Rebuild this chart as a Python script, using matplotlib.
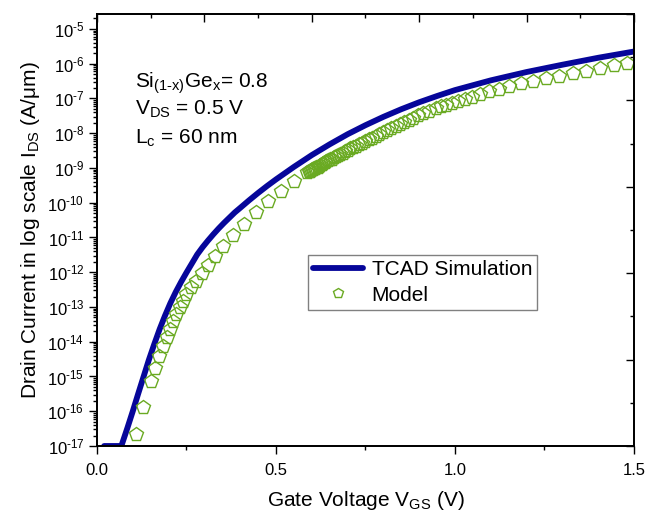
import numpy as np
import matplotlib
matplotlib.use('Agg')
from matplotlib import pyplot as plt
from matplotlib.ticker import LogLocator, MultipleLocator, NullFormatter, FuncFormatter

plt.rcParams['font.family'] = ['Liberation Sans', 'DejaVu Sans']
plt.rcParams['mathtext.fontset'] = 'custom'
plt.rcParams['mathtext.rm'] = 'Liberation Sans'
plt.rcParams['mathtext.it'] = 'Liberation Sans:italic'
plt.rcParams['mathtext.default'] = 'regular'

# TCAD simulation (V_GS in V, log10 of I_DS in A/um)
v_tcad = [0.02, 0.063, 0.068, 0.070, 0.085, 0.100, 0.115, 0.130, 0.145, 0.160,
          0.175, 0.190, 0.205, 0.220, 0.235, 0.250, 0.265, 0.280, 0.295, 0.310,
          0.325, 0.340, 0.355, 0.370, 0.385, 0.400, 0.425, 0.450, 0.475, 0.500,
          0.525, 0.550, 0.575, 0.600, 0.650, 0.700, 0.750, 0.800, 0.850, 0.900,
          0.950, 1.000, 1.100, 1.200, 1.300, 1.400, 1.500]
logi_tcad = [-17.0, -17.0, -17.0, -16.94, -16.48, -16.00, -15.50, -15.01, -14.52, -14.07,
             -13.64, -13.25, -12.89, -12.57, -12.28, -12.01, -11.75, -11.49, -11.28, -11.09,
             -10.91, -10.74, -10.58, -10.43, -10.28, -10.15, -9.93, -9.72, -9.52, -9.33,
             -9.15, -8.97, -8.80, -8.63, -8.32, -8.03, -7.77, -7.53, -7.31, -7.11,
             -6.93, -6.76, -6.48, -6.24, -6.03, -5.83, -5.65]

# model points
v_model = [0.108, 0.128, 0.150, 0.162, 0.174, 0.185, 0.195, 0.204, 0.213, 0.222,
           0.231, 0.240, 0.250, 0.263, 0.277, 0.293, 0.310, 0.330, 0.353, 0.380,
           0.410, 0.443, 0.477, 0.513, 0.550, 0.588,
           0.592, 0.595, 0.598, 0.601, 0.604, 0.607, 0.610, 0.613, 0.616, 0.620,
           0.624, 0.628, 0.632, 0.636, 0.641, 0.646, 0.651, 0.656, 0.662, 0.668,
           0.674, 0.680, 0.687, 0.694, 0.701, 0.708, 0.716, 0.724, 0.732, 0.741,
           0.750, 0.759, 0.769, 0.779, 0.789, 0.800, 0.811, 0.822, 0.834, 0.846,
           0.858, 0.871, 0.884, 0.898, 0.912, 0.927,
           0.946, 0.960, 0.975, 0.991, 1.008, 1.027, 1.048, 1.071, 1.096, 1.123,
           1.152, 1.184, 1.218, 1.254, 1.291, 1.329, 1.367, 1.405, 1.443, 1.481]
logi_model = [-16.66, -15.87, -15.12, -14.76, -14.42, -14.12, -13.86, -13.62, -13.40, -13.19,
              -13.00, -12.82, -12.63, -12.43, -12.24, -12.02, -11.80, -11.54, -11.25, -10.93,
              -10.60, -10.27, -9.96, -9.66, -9.38, -9.12,
              -9.10, -9.08, -9.06, -9.04, -9.03, -9.01, -8.99, -8.97, -8.96, -8.93,
              -8.91, -8.89, -8.86, -8.84, -8.81, -8.78, -8.75, -8.73, -8.69, -8.66,
              -8.63, -8.60, -8.56, -8.52, -8.48, -8.44, -8.40, -8.36, -8.32, -8.27,
              -8.22, -8.18, -8.13, -8.08, -8.03, -7.97, -7.92, -7.86, -7.80, -7.74,
              -7.68, -7.62, -7.56, -7.49, -7.43, -7.36,
              -7.28, -7.23, -7.18, -7.13, -7.08, -7.02, -6.95, -6.88, -6.80, -6.72,
              -6.64, -6.56, -6.49, -6.42, -6.35, -6.27, -6.20, -6.12, -6.05, -5.98]

i_tcad = 10**np.array(logi_tcad)
i_model = 10**np.array(logi_model)

blue = '#06069a'
green = '#6aaa22'


def exp_label(y, pos):
    e = int(round(np.log10(y)))
    if e < 0:
        return r'10$^{\text{-}%d}$' % (-e)
    return r'10$^{%d}$' % e


fig = plt.figure(figsize=(6.57, 5.14), dpi=100)
ax = fig.add_subplot(111)
fig.subplots_adjust(left=0.1476, right=0.965, bottom=0.1323, top=0.9728)

ax.plot(v_tcad, i_tcad, '-', color=blue, lw=4.2, label='TCAD Simulation', zorder=2,
        solid_capstyle='round', solid_joinstyle='round')
ax.plot(v_model, i_model, 'p', color=green, mfc='none', ms=10.5, mew=1.0,
        label='Model', zorder=3)

ax.set_yscale('log')
ax.set_xlim(0, 1.5)
ax.set_ylim(1e-17, 10**-4.57)
ax.yaxis.set_major_locator(LogLocator(base=10, numticks=30))
ax.yaxis.set_minor_locator(LogLocator(base=10, subs=np.arange(2, 10), numticks=30))
ax.yaxis.set_major_formatter(FuncFormatter(exp_label))
ax.yaxis.set_minor_formatter(NullFormatter())
ax.xaxis.set_major_locator(MultipleLocator(0.5))
ax.xaxis.set_minor_locator(MultipleLocator(0.25))
ax.xaxis.set_major_formatter(plt.FormatStrFormatter('%.1f'))
ax.tick_params(which='major', direction='out', length=6, width=1, labelsize=12)
ax.tick_params(which='minor', direction='out', length=3, width=1)
ax.tick_params(axis='x', which='major', pad=6)
ax.tick_params(axis='y', which='major', pad=3)
for s in ax.spines.values():
    s.set_linewidth(1.1)

ax.set_xlabel(r'Gate Voltage V$_{\mathregular{GS}}$ (V)', fontsize=15, labelpad=8)
ax.set_ylabel(r'Drain Current in log scale I$_{\mathregular{DS}}$ (A/μm)', fontsize=15, labelpad=4)

# top and right axes with their own inward ticks, no labels
axt = ax.twiny()
axt.set_xlim(0, 1.5)
axt.xaxis.set_major_locator(MultipleLocator(0.3))
axt.xaxis.set_minor_locator(MultipleLocator(0.15))
axt.tick_params(axis='x', which='major', direction='in', length=6, width=1, labeltop=False)
axt.tick_params(axis='x', which='minor', direction='in', length=3, width=1)

axr = ax.twinx()
axr.set_ylim(0, 5)
axr.yaxis.set_major_locator(MultipleLocator(1))
axr.yaxis.set_minor_locator(MultipleLocator(0.5))
axr.tick_params(axis='y', which='major', direction='in', length=6, width=1, labelright=False)
axr.tick_params(axis='y', which='minor', direction='in', length=3, width=1)
for a in (axt, axr):
    for s in a.spines.values():
        s.set_linewidth(1.1)

ax.text(0.071, 0.829, r'Si$_{(1\text{-}x)}$Ge$_{x}$= 0.8', transform=ax.transAxes,
        fontsize=15, va='baseline')
ax.text(0.071, 0.766, r'V$_{DS}$ = 0.5 V', transform=ax.transAxes,
        fontsize=15, va='baseline')
ax.text(0.071, 0.699, r'L$_{c}$ = 60 nm', transform=ax.transAxes,
        fontsize=15, va='baseline')

leg = ax.legend(loc='lower left', bbox_to_anchor=(0.393, 0.315), borderaxespad=0,
                fontsize=15, fancybox=False, edgecolor='#808080', framealpha=1,
                handlelength=2.4, handletextpad=0.4, labelspacing=0.3, borderpad=0.25,
                markerscale=0.75)
leg.get_frame().set_linewidth(1.0)

fig.savefig('out.png', dpi=100)
